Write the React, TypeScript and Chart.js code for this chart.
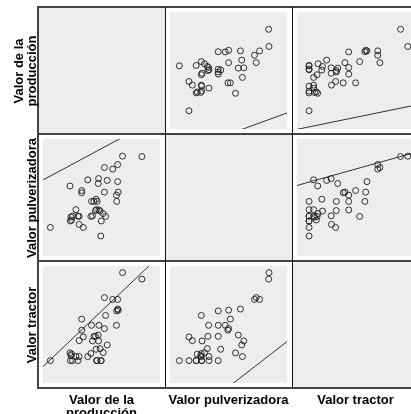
import React, { useEffect, useRef } from "react";
import { Chart, registerables } from "chart.js";

Chart.register(...registerables);

// Variable names (rows top→bottom, columns left→right)
const variableLabels: string[][] = [["Valor de la", "producción"], ["Valor pulverizadora"], ["Valor tractor"]];

// One value per case (41 cases)
const produccion = [
  6.3, 23.1, 23.4, 23.9, 24.4, 25.2, 28.1, 29.9, 30.9, 30.9, 33.1, 33.1, 34.4, 38.3, 40.9, 41.5, 42.3, 43.5, 44.9, 45.4,
  45.7, 46.2, 47.2, 47.5, 47.8, 48.8, 49.4, 49.8, 51.4, 52.5, 52.5, 53.5, 54.9, 59.6, 62.8, 63.0, 63.8, 63.8, 64.3, 68.0, 84.5,
];
const pulverizadora = [
  16.2, 56.0, 22.4, 26.2, 23.3, 27.1, 33.3, 27.1, 26.8, 19.1, 51.6, 49.5, 16.2, 61.9, 26.8, 41.2, 27.4, 41.2, 32.4, 43.3,
  33.3, 41.2, 58.4, 63.1, 33.0, 31.9, 8.0, 22.4, 29.5, 73.7, 50.1, 26.8, 61.3, 72.2, 47.2, 41.2, 76.6, 60.2, 50.1, 84.6, 84.3,
];
const tractor = [
  10.3, 17.7, 10.3, 15.0, 16.5, 10.3, 14.2, 10.3, 14.2, 29.5, 50.1, 39.5, 33.0, 14.2, 17.1, 44.2, 29.2, 33.6, 33.6, 21.2,
  10.3, 10.3, 34.8, 29.2, 44.2, 21.8, 10.3, 10.3, 18.0, 70.8, 41.0, 53.6, 25.3, 69.0, 44.2, 58.0, 69.0, 59.8, 58.7, 94.7, 88.5,
];

// Fit lines per panel [row][col]: y = slope * x + intercept
const fitSlopes: (number | null)[][] = [
  [null, 0.41, 0.23],
  [0.602, null, 0.314],
  [1.067, 0.869, null],
];
const fitIntercepts: (number | null)[][] = [
  [null, -36.8, -11.55],
  [61.8, null, 56.5],
  [4.5, -58.4, null],
];

const X_MIN = 0;
const X_MAX = 100;
const Y_MIN = -11.2;
const Y_MAX = 101.1;

const variables = [produccion, pulverizadora, tractor];

const GRID_LEFT = 38;
const GRID_TOP = 7;
const CELL = 127;
const FONT = 'bold 13px "Liberation Sans", Arial, sans-serif';

let cachedTile: HTMLCanvasElement | null = null;
function getTile(): HTMLCanvasElement {
  if (cachedTile) return cachedTile;
  const c = document.createElement("canvas");
  c.width = 4;
  c.height = 4;
  const g = c.getContext("2d")!;
  g.fillStyle = "#ececec";
  g.fillRect(0, 0, 4, 4);
  g.fillStyle = "#f7f7f7";
  g.fillRect(0, 0, 1, 1);
  g.fillRect(2, 2, 1, 1);
  cachedTile = c;
  return c;
}

const bgPlugin = {
  id: "cellBackground",
  beforeDraw(chart: any) {
    const { ctx, chartArea } = chart;
    if (!chartArea) return;
    ctx.save();
    const pat = ctx.createPattern(getTile(), "repeat");
    ctx.fillStyle = pat || "#eeeeee";
    ctx.fillRect(chartArea.left, chartArea.top, chartArea.width, chartArea.height);
    ctx.restore();
  },
};

function Cell({ row, col }: { row: number; col: number }) {
  const ref = useRef<HTMLCanvasElement>(null);
  useEffect(() => {
    if (!ref.current) return;
    const datasets: any[] = [];
    if (row !== col) {
      const xs = variables[col];
      const ys = variables[row];
      datasets.push({
        type: "scatter",
        data: xs.map((x, i) => ({ x, y: ys[i] })),
        pointRadius: 3,
        pointBorderWidth: 1,
        pointBorderColor: "rgba(30,30,30,0.9)",
        pointBackgroundColor: "rgba(0,0,0,0)",
        showLine: false,
      });
      const m = fitSlopes[row][col] as number;
      const b = fitIntercepts[row][col] as number;
      datasets.push({
        type: "line",
        data: [X_MIN, X_MAX].map((x) => ({ x, y: m * x + b })),
        borderColor: "#333333",
        borderWidth: 1,
        pointRadius: 0,
        fill: false,
        tension: 0,
      });
    }
    const chart = new Chart(ref.current, {
      type: "scatter",
      data: { datasets },
      options: {
        animation: false,
        responsive: false,
        maintainAspectRatio: false,
        events: [],
        layout: { padding: 0 },
        plugins: { legend: { display: false }, tooltip: { enabled: false } },
        scales: {
          x: { type: "linear", display: false, min: X_MIN, max: X_MAX },
          y: { type: "linear", display: false, min: Y_MIN, max: Y_MAX },
        },
      },
      plugins: [bgPlugin],
    } as any);
    return () => chart.destroy();
  }, [row, col]);
  return (
    <canvas
      ref={ref}
      width={CELL}
      height={CELL}
      style={{
        position: "absolute",
        left: GRID_LEFT + CELL * col,
        top: GRID_TOP + CELL * row,
        width: CELL,
        height: CELL,
        display: "block",
      }}
    />
  );
}

export default function App() {
  const cells: React.ReactNode[] = [];
  for (let r = 0; r < 3; r++) for (let c = 0; c < 3; c++) cells.push(<Cell key={`${r}-${c}`} row={r} col={c} />);

  const gridBottom = GRID_TOP + CELL * 3;
  const lines: React.ReactNode[] = [];
  [GRID_TOP, GRID_TOP + CELL, GRID_TOP + 2 * CELL, gridBottom].forEach((y, i) =>
    lines.push(
      <div
        key={`h${i}`}
        style={{ position: "absolute", left: GRID_LEFT - 1, top: y - 1, width: 411, height: 2, background: "#444" }}
      />
    )
  );
  [GRID_LEFT + CELL, GRID_LEFT + 2 * CELL].forEach((x, i) =>
    lines.push(
      <div
        key={`v${i}`}
        style={{ position: "absolute", left: x, top: GRID_TOP, width: 1, height: CELL * 3, background: "#111" }}
      />
    )
  );
  lines.push(
    <div
      key="vl"
      style={{ position: "absolute", left: GRID_LEFT - 1, top: GRID_TOP - 1, width: 2, height: CELL * 3 + 2, background: "#444" }}
    />
  );

  const yLabels = variableLabels.map((lbl, r) => {
    const cy = GRID_TOP + CELL * r + CELL / 2;
    const cx = 22;
    return (
      <div
        key={`yl${r}`}
        style={{
          position: "absolute",
          left: cx - CELL / 2,
          top: cy - 15,
          width: CELL,
          height: 30,
          transform: "rotate(-90deg)",
          display: "flex",
          flexDirection: "column",
          justifyContent: "flex-end",
          textAlign: "center",
          font: FONT,
          lineHeight: "13px",
          color: "#000",
          whiteSpace: "nowrap",
        }}
      >
        {lbl.map((t, i) => (
          <div key={i}>{t}</div>
        ))}
      </div>
    );
  });

  const xLabels = variableLabels.map((lbl, c) => (
    <div
      key={`xl${c}`}
      style={{
        position: "absolute",
        left: GRID_LEFT + CELL * c,
        top: gridBottom + 5,
        width: CELL,
        textAlign: "center",
        font: FONT,
        lineHeight: "13px",
        color: "#000",
        whiteSpace: "nowrap",
      }}
    >
      {lbl.map((t, i) => (
        <div key={i}>{t}</div>
      ))}
    </div>
  ));

  return (
    <div
      style={{
        position: "absolute",
        left: 0,
        top: 0,
        width: 411,
        height: 414,
        overflow: "hidden",
        background: "#fff",
      }}
    >
      {cells}
      {lines}
      {yLabels}
      {xLabels}
    </div>
  );
}
